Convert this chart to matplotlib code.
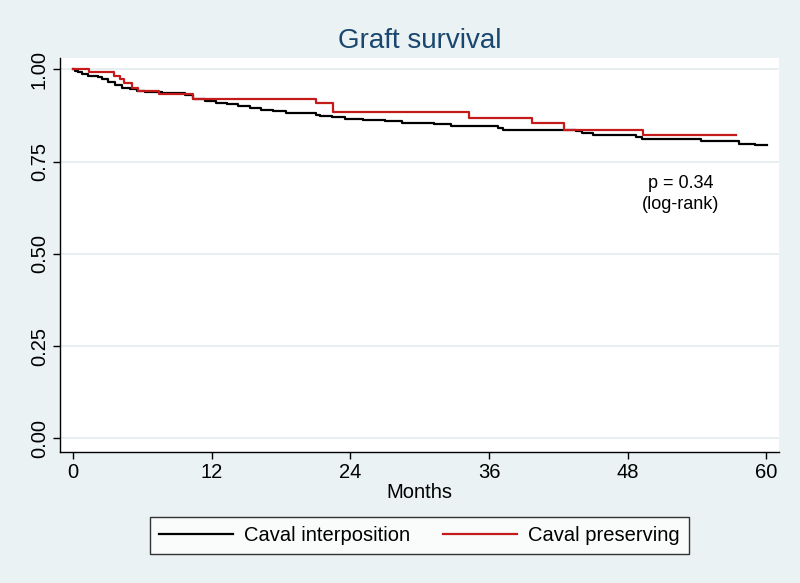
import matplotlib
matplotlib.use("Agg")
import matplotlib.pyplot as plt
from matplotlib.lines import Line2D

plt.rcParams['font.family'] = ['Liberation Sans', 'DejaVu Sans']

# Kaplan-Meier step data (months, survival)
t_interp = [0, 0.17, 0.46, 0.75, 1.33, 2.19, 2.48, 3.06, 3.64, 4.21, 4.94, 5.51, 6.23, 7.68,
            9.70, 10.4, 11.4, 12.4, 13.3, 14.3, 15.3, 16.3, 17.3, 18.4, 21.0, 21.4, 22.4,
            23.5, 25.1, 27.0, 28.5, 31.2, 32.7, 36.8, 37.2, 42.6, 43.5, 44.0, 45.0, 48.7,
            49.2, 54.3, 57.6, 59.0, 60.05]
s_interp = [1.0, 0.996, 0.993, 0.987, 0.983, 0.980, 0.975, 0.966, 0.957, 0.951, 0.947, 0.941,
            0.938, 0.935, 0.930, 0.919, 0.915, 0.910, 0.906, 0.901, 0.895, 0.890, 0.886,
            0.881, 0.877, 0.873, 0.870, 0.867, 0.863, 0.860, 0.856, 0.852, 0.846, 0.841,
            0.837, 0.836, 0.832, 0.828, 0.823, 0.817, 0.812, 0.807, 0.798, 0.795, 0.795]

t_pres = [0, 1.4, 3.5, 4.1, 4.4, 5.1, 5.6, 7.4, 10.4, 21.0, 22.5, 34.3, 39.7, 42.5, 49.3, 57.4]
s_pres = [1.0, 0.993, 0.983, 0.973, 0.962, 0.951, 0.942, 0.934, 0.921, 0.909, 0.884, 0.869,
          0.854, 0.837, 0.822, 0.822]

x_ticks = [0, 12, 24, 36, 48, 60]
y_ticks = [0.0, 0.25, 0.5, 0.75, 1.0]
y_labels = ["0.00", "0.25", "0.50", "0.75", "1.00"]

bg = '#EAF2F3'
navy = '#1A476F'
red = '#C41A1A'

fig = plt.figure(figsize=(8, 5.83), dpi=100, facecolor=bg)
ax = fig.add_axes([0.075, 0.2247, 0.899, 0.6758])
ax.set_facecolor('white')

for y in y_ticks:
    ax.axhline(y, color='#E4ECEE', lw=1.2, zorder=0)

ax.plot(t_interp, s_interp, drawstyle='steps-post', color='black', lw=1.6, zorder=3)
ax.plot(t_pres, s_pres, drawstyle='steps-post', color=red, lw=1.6, zorder=4)

ax.set_xlim(-1.13, 61.1)
ax.set_ylim(-0.037, 1.031)
ax.set_xticks(x_ticks)
ax.set_yticks(y_ticks)
ax.set_yticklabels(y_labels, rotation=90, va='center')
ax.tick_params(axis='both', direction='out', length=5, width=1, labelsize=14.5, pad=3, colors='black')

for s in ['top', 'right']:
    ax.spines[s].set_visible(False)
for s in ['left', 'bottom']:
    ax.spines[s].set_linewidth(1)

ax.set_xlabel("Months", fontsize=14.5, labelpad=1)
ax.set_title("Graft survival", fontsize=20, color=navy, pad=7)

ax.text(52.6, 0.662, "p = 0.34\n(log-rank)", ha='center', va='center', fontsize=13,
        linespacing=1.3)

handles = [Line2D([], [], color='black', lw=1.6), Line2D([], [], color=red, lw=1.6)]
leg = fig.legend(handles, ["Caval interposition", "Caval preserving"], loc='center',
                 bbox_to_anchor=(0.524, 0.0815), ncol=2, fontsize=14.5, frameon=True,
                 fancybox=False, edgecolor='black', facecolor='white', handlelength=3.7,
                 handletextpad=0.55, columnspacing=1.6, borderpad=0.45)
leg.get_frame().set_linewidth(1)

fig.savefig("out.png", dpi=100, facecolor=bg)
